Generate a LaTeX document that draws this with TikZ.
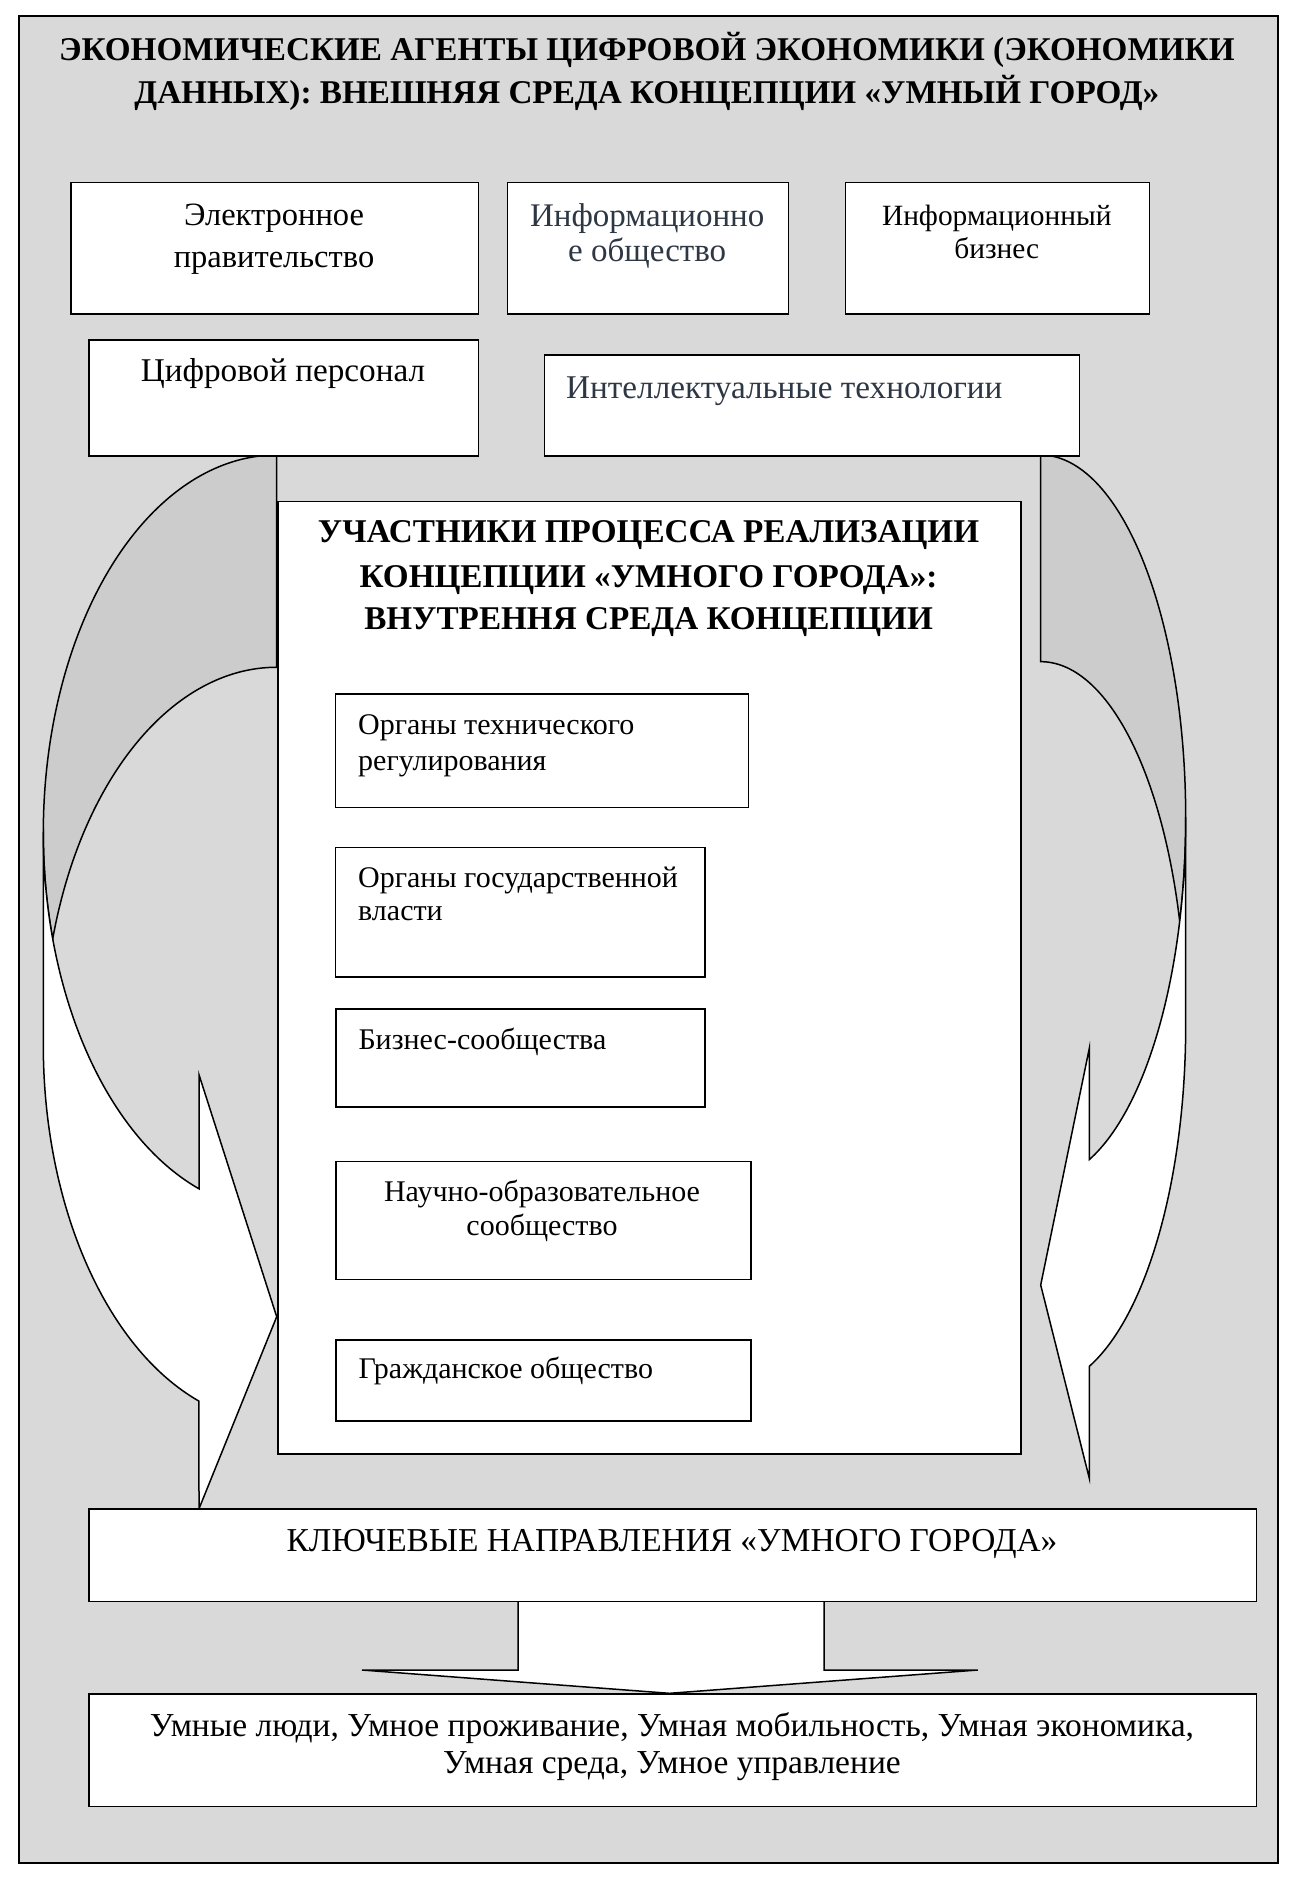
\documentclass[tikz,border=0pt]{standalone}
\usepackage{fontspec}
\setmainfont{Liberation Serif}
\definecolor{bggray}{HTML}{D9D9D9}
\definecolor{backgray}{HTML}{CCCCCC}
\definecolor{slate}{HTML}{2E3744}
\newcommand{\fsz}[1]{\fontsize{#1}{#1}\selectfont}
\tikzset{
  box/.style={draw=black, fill=white, line width=1.6pt, inner sep=0pt, anchor=north west},
  txt/.style={inner sep=0pt, text=black},
  ttl/.style={txt, font=\fsz{33.2}\bfseries, anchor=base},
  arrowline/.style={draw=black, line width=1.5pt, line join=miter},
}
\begin{document}
\begin{tikzpicture}[x=1pt, y=-1pt]
\useasboundingbox (0,0) rectangle (1296,1880);
\fill[white] (0,0) rectangle (1296,1880);
% outer frame
\node[box, fill=bggray, line width=2pt, minimum width=1259pt, minimum height=1847pt] (frame) at (18,15) {};
% title
\node[ttl] (t1) at (646.8,60) {ЭКОНОМИЧЕСКИЕ АГЕНТЫ ЦИФРОВОЙ ЭКОНОМИКИ (ЭКОНОМИКИ};
\node[ttl] (t2) at (646.8,103.3) {ДАННЫХ): ВНЕШНЯЯ СРЕДА КОНЦЕПЦИИ «УМНЫЙ ГОРОД»};

% left curved arrow
\draw[arrowline, fill=backgray] (276.7,455)
  arc[start angle=270, end angle=163.68, x radius=233.4, y radius=377.7]
  arc[start angle=196.32, end angle=270, x radius=233.4, y radius=377.7] -- cycle;
\draw[arrowline, fill=white] (43.3,832.7) -- (43.3,1045)
  arc[start angle=180, end angle=109.45, x radius=233.4, y radius=377.7]
  -- (199,1508.7) -- (276.7,1316.7) -- (199,1074.7) -- (199,1188.8)
  arc[start angle=109.45, end angle=180, x radius=233.4, y radius=377.7] -- cycle;
% right curved arrow
\draw[arrowline, fill=backgray] (1040.7,455)
  arc[start angle=-90, end angle=16.55, x radius=145, y radius=362.8]
  arc[start angle=-16.55, end angle=-90, x radius=145, y radius=362.8] -- cycle;
\draw[arrowline, fill=white] (1185.7,817.8) -- (1185.7,1024.5)
  arc[start angle=0, end angle=70.42, x radius=145, y radius=362.8]
  -- (1089.3,1478.3) -- (1040.7,1285) -- (1089.3,1048.3) -- (1089.3,1159.6)
  arc[start angle=70.42, end angle=0, x radius=145, y radius=362.8] -- cycle;

% top boxes
\node[box, minimum width=407.4pt, minimum height=131.6pt] (b1) at (70.3,181.7) {};
\node[box, minimum width=281pt, minimum height=131.6pt] (b2) at (506.7,181.7) {};
\node[box, minimum width=304.1pt, minimum height=131.6pt] (b3) at (844.7,181.7) {};
\node[box, minimum width=389.3pt, minimum height=115.7pt] (b4) at (88.4,339.3) {};
\node[box, minimum width=534.7pt, minimum height=101pt] (b5) at (543.8,354) {};

\node[txt, font=\fsz{32.5}, anchor=base] (b1a) at (274,225) {Электронное};
\node[txt, font=\fsz{32.5}, anchor=base] (b1b) at (274,267) {правительство};
\node[txt, font=\fsz{33}, text=slate, anchor=base] (b2a) at (647.2,226.7) {Информационно};
\node[txt, font=\fsz{33}, text=slate, anchor=base] (b2b) at (647.2,261.7) {е общество};
\node[txt, font=\fsz{29.4}, anchor=base] (b3a) at (996.8,225) {Информационный};
\node[txt, font=\fsz{29.4}, anchor=base] (b3b) at (996.8,258.3) {бизнес};
\node[txt, font=\fsz{33.2}, anchor=base] (b4a) at (283,381.7) {Цифровой персонал};
\node[txt, font=\fsz{33.2}, text=slate, anchor=base west] (b5a) at (566,398.3) {Интеллектуальные технологии};

% inner box
\node[box, minimum width=743pt, minimum height=952.6pt] (inner) at (277,500.7) {};
\node[ttl] (i1) at (648.5,542.5) {УЧАСТНИКИ ПРОЦЕССА РЕАЛИЗАЦИИ};
\node[ttl] (i2) at (648.5,587) {КОНЦЕПЦИИ «УМНОГО ГОРОДА»:};
\node[ttl] (i3) at (648.5,629.5) {ВНУТРЕННЯ СРЕДА КОНЦЕПЦИИ};

\node[box, minimum width=412.9pt, minimum height=113.4pt] (ba) at (334.6,693.3) {};
\node[box, minimum width=369.6pt, minimum height=129.3pt] (bb) at (334.6,846.7) {};
\node[box, minimum width=369pt, minimum height=97.7pt] (bc) at (335,1008.3) {};
\node[box, minimum width=415pt, minimum height=118pt] (bd) at (335,1160.7) {};
\node[box, minimum width=415pt, minimum height=80.7pt] (be) at (335,1339.3) {};

\node[txt, font=\fsz{30}, anchor=base west] (baa) at (358,734) {Органы технического};
\node[txt, font=\fsz{30}, anchor=base west] (bab) at (358,770) {регулирования};
\node[txt, font=\fsz{30}, anchor=base west] (bba) at (358,887) {Органы государственной};
\node[txt, font=\fsz{30}, anchor=base west] (bbb) at (358,920) {власти};
\node[txt, font=\fsz{30}, anchor=base west] (bca) at (358.3,1049.3) {Бизнес-сообщества};
\node[txt, font=\fsz{30}, anchor=base] (bda) at (542,1201) {Научно-образовательное};
\node[txt, font=\fsz{30}, anchor=base] (bdb) at (542,1235.7) {сообщество};
\node[txt, font=\fsz{30}, anchor=base west] (bea) at (358.3,1378.3) {Гражданское общество};

% down arrow
\draw[arrowline, fill=white] (518.2,1600.7) -- (518.2,1670) -- (362,1670) -- (669.5,1693.3)
  -- (977.8,1670) -- (824,1670) -- (824,1600.7) -- cycle;

% bottom boxes
\node[box, minimum width=1167.1pt, minimum height=92.4pt] (key) at (88.4,1508.3) {};
\node[txt, font=\fsz{33.4}, anchor=base] (keyt) at (672,1551.7) {КЛЮЧЕВЫЕ НАПРАВЛЕНИЯ «УМНОГО ГОРОДА»};
\node[box, minimum width=1167.1pt, minimum height=112.4pt] (res) at (88.4,1693.3) {};
\node[txt, font=\fsz{33.5}, anchor=base] (resa) at (672,1736) {Умные люди, Умное проживание, Умная мобильность, Умная экономика,};
\node[txt, font=\fsz{33.5}, anchor=base] (resb) at (672,1773) {Умная среда, Умное управление};
\end{tikzpicture}
\end{document}
